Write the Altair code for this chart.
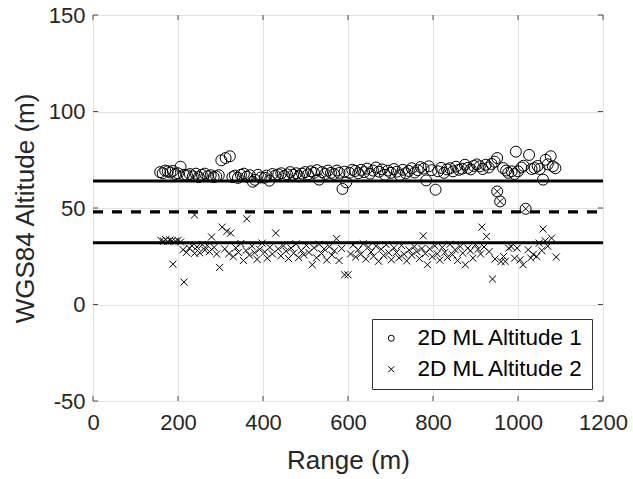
import altair as alt
import pandas as pd

# ---- data ----
series_names = ["2D ML Altitude 1", "2D ML Altitude 2"]

alt1_range = [
    158, 164, 170, 176, 182, 188, 194, 200, 206, 214,
    221, 228, 235, 242, 249, 256, 263, 270, 277, 284,
    290, 296, 302, 312, 322, 328, 334, 341, 348, 355,
    362, 369, 376, 381, 388, 395, 404, 408, 415, 422,
    429, 436, 443, 450, 457, 464, 471, 478, 485, 492,
    499, 506, 513, 520, 527, 532, 539, 546, 553, 560,
    567, 574, 580, 587, 592, 596, 603, 610, 617, 624,
    631, 638, 645, 652, 659, 666, 673, 680, 687, 694,
    701, 708, 715, 722, 729, 736, 743, 750, 757, 764,
    771, 778, 784, 790, 797, 806, 812, 819, 826, 833,
    840, 847, 854, 861, 868, 875, 882, 889, 896, 903,
    910, 917, 924, 931, 938, 945, 951, 951, 958, 965,
    972, 977, 985, 992, 995, 1000, 1008, 1013, 1018, 1026,
    1032, 1039, 1046, 1051, 1059, 1065, 1070, 1077, 1082, 1088,
]
alt1_value = [
    68.6, 68.0, 69.4, 69.0, 68.4, 69.2, 67.6, 68.0, 71.4, 67.2,
    67.0, 67.6, 66.4, 67.8, 66.0, 67.2, 67.8, 66.4, 67.0, 66.0,
    66.4, 67.0, 74.7, 75.9, 76.8, 66.0, 66.8, 65.6, 67.2, 67.8,
    66.2, 67.0, 63.6, 64.6, 67.2, 65.8, 65.7, 66.8, 64.2, 67.6,
    66.8, 67.4, 68.0, 66.6, 67.4, 68.6, 67.2, 68.0, 66.4, 67.8,
    68.6, 67.4, 69.0, 68.2, 69.6, 64.7, 68.6, 67.6, 69.4, 68.2,
    67.6, 69.4, 68.2, 59.9, 68.8, 63.3, 68.2, 69.8, 69.2, 68.0,
    69.8, 68.6, 70.4, 67.8, 69.4, 71.0, 68.8, 70.0, 67.2, 69.4,
    68.2, 70.2, 68.8, 67.0, 69.8, 68.0, 69.2, 70.6, 68.4, 69.6,
    71.2, 70.4, 64.3, 71.6, 69.6, 59.5, 69.0, 70.8, 68.2, 70.0,
    70.6, 69.0, 71.4, 69.8, 70.4, 72.4, 70.8, 70.0, 71.8, 72.6,
    71.6, 70.2, 72.4, 71.0, 72.8, 74.0, 75.9, 58.6, 53.4, 70.7,
    69.4, 68.2, 69.0, 67.6, 79.2, 69.0, 71.0, 71.9, 49.6, 77.5,
    70.2, 70.7, 71.8, 70.2, 64.7, 75.0, 72.6, 76.8, 71.6, 70.6,
]

alt2_range = [
    160, 166, 171, 176, 181, 186, 188, 194, 200, 206,
    212, 214, 220, 227, 233, 239, 239, 245, 251, 257,
    263, 269, 274, 279, 285, 291, 298, 304, 310, 315,
    320, 324, 330, 336, 342, 348, 354, 360, 362, 368,
    374, 380, 386, 392, 398, 404, 410, 416, 422, 430,
    436, 442, 448, 454, 460, 466, 472, 478, 484, 490,
    496, 502, 508, 516, 520, 526, 532, 538, 544, 550,
    556, 562, 568, 573, 579, 585, 592, 600, 606, 612,
    618, 624, 630, 636, 642, 648, 654, 660, 666, 672,
    678, 684, 690, 696, 702, 708, 714, 720, 726, 732,
    738, 744, 750, 756, 762, 768, 774, 777, 782, 787,
    792, 798, 804, 810, 816, 822, 828, 834, 840, 846,
    852, 858, 864, 870, 876, 882, 888, 894, 900, 906,
    912, 915, 920, 926, 932, 940, 946, 951, 958, 960,
    966, 970, 978, 984, 992, 998, 1005, 1012, 1018, 1024,
    1030, 1036, 1044, 1050, 1056, 1059, 1064, 1070, 1079, 1090,
]
alt2_value = [
    33.2, 32.8, 33.6, 32.6, 33.4, 33.0, 20.9, 32.8, 33.2, 32.4,
    28.4, 11.6, 27.0, 29.2, 30.4, 26.5, 46.4, 29.8, 26.8, 31.0,
    28.2, 30.6, 27.4, 35.0, 29.6, 26.2, 19.2, 40.1, 28.8, 37.9,
    26.4, 37.0, 24.8, 29.4, 27.0, 31.6, 22.8, 28.0, 44.4, 25.6,
    30.2, 26.8, 23.4, 28.6, 31.8, 27.2, 24.0, 29.6, 26.2, 37.0,
    28.8, 25.2, 30.4, 27.6, 23.8, 29.2, 26.6, 31.4, 24.4, 28.0,
    25.8, 30.6, 27.0, 20.6, 29.4, 24.2, 31.2, 26.4, 28.8, 23.0,
    30.0, 25.6, 27.8, 34.1, 22.8, 29.0, 15.4, 15.4, 26.2, 30.8,
    24.6, 28.4, 26.0, 31.4, 23.6, 29.8, 27.2, 25.0, 30.2, 22.4,
    28.6, 25.4, 31.0, 26.8, 23.2, 29.4, 27.0, 24.2, 30.6, 26.0,
    22.6, 28.2, 25.6, 30.0, 27.4, 23.8, 29.0, 35.6, 26.4, 20.6,
    28.8, 24.8, 30.4, 26.2, 23.0, 29.6, 27.0, 24.4, 31.2, 25.8,
    28.4, 22.8, 30.0, 26.6, 20.6, 29.2, 27.8, 24.0, 31.0, 28.6,
    26.2, 40.1, 29.8, 35.3, 27.4, 13.2, 23.6, 58.6, 53.4, 22.2,
    24.9, 22.3, 29.2, 30.0, 24.0, 29.2, 23.2, 20.6, 49.6, 28.4,
    24.1, 26.0, 24.9, 31.8, 28.0, 39.1, 33.0, 30.2, 34.4, 24.6,
]

solid_levels = [64, 32]
dashed_levels = [48]
x_ticks = [0, 200, 400, 600, 800, 1000, 1200]
y_ticks = [-50, 0, 50, 100, 150]

X_TITLE = "Range (m)"
Y_TITLE = "WGS84 Altitude (m)"
FONT = "Liberation Sans"
TXT = "#262626"

# ---- tables ----
df1 = pd.DataFrame({"range": alt1_range, "alt": alt1_value, "series": series_names[0]})
df2 = pd.DataFrame({"range": alt2_range, "alt": alt2_value, "series": series_names[1]})

xs = alt.Scale(domain=[0, 1200], nice=False, zero=False)
ys = alt.Scale(domain=[-50, 150], nice=False, zero=False)

x_axis = alt.Axis(values=x_ticks, title=X_TITLE, labelPadding=11, titlePadding=14,
                  labelExpr="'' + datum.value")
y_axis = alt.Axis(values=y_ticks, title=Y_TITLE, labelPadding=8, titlePadding=10,
                  labelExpr="'' + datum.value")

X_PATH = "M-1,-1L1,1M-1,1L1,-1"
shape_scale = alt.Scale(domain=series_names, range=["circle", X_PATH])
legend = alt.Legend(title=None, orient="none", legendX=279, legendY=304,
                    direction="vertical", strokeColor="#333333", fillColor="white",
                    padding=8, symbolOffset=0, symbolSize=36, labelOffset=15,
                    labelFontSize=22.5, labelFont=FONT, labelColor="black",
                    labelLimit=400, rowPadding=8, symbolStrokeColor="black",
                    symbolStrokeWidth=1, symbolFillColor="transparent",
                    cornerRadius=0)


def scatter(df, size):
    return alt.Chart(df).mark_point(filled=False, color="black", strokeWidth=1,
                                    opacity=1, size=size).encode(
        x=alt.X("range:Q", scale=xs, axis=x_axis),
        y=alt.Y("alt:Q", scale=ys, axis=y_axis),
        shape=alt.Shape("series:N", scale=shape_scale, legend=legend),
    )


circles = scatter(df1, 120)
crosses = scatter(df2, 50)

solid = alt.Chart(pd.DataFrame({"alt": solid_levels})).mark_rule(color="black", strokeWidth=3.2).encode(
    y=alt.Y("alt:Q", scale=ys, axis=y_axis), x=alt.datum(0), x2=alt.datum(1200))

dashed = alt.Chart(pd.DataFrame({"alt": dashed_levels})).mark_rule(
    color="black", strokeWidth=3.2, strokeDash=[10, 9]).encode(
    y=alt.Y("alt:Q", scale=ys, axis=y_axis), x=alt.datum(0), x2=alt.datum(1200))

# inward ticks (MATLAB style)
tick_y = pd.DataFrame({"alt": y_ticks})
tick_x = pd.DataFrame({"range": x_ticks})
tl = alt.Chart(tick_y).mark_rule(color="#4d4d4d", strokeWidth=1).encode(
    y=alt.Y("alt:Q", scale=ys, axis=y_axis), x=alt.datum(0), x2=alt.datum(12))
tr = alt.Chart(tick_y).mark_rule(color="#4d4d4d", strokeWidth=1).encode(
    y=alt.Y("alt:Q", scale=ys, axis=y_axis), x=alt.datum(1188), x2=alt.datum(1200))
tb = alt.Chart(tick_x).mark_rule(color="#4d4d4d", strokeWidth=1).encode(
    x=alt.X("range:Q", scale=xs, axis=x_axis), y=alt.datum(-50), y2=alt.datum(-47.4))
tt = alt.Chart(tick_x).mark_rule(color="#4d4d4d", strokeWidth=1).encode(
    x=alt.X("range:Q", scale=xs, axis=x_axis), y=alt.datum(147.4), y2=alt.datum(150))

chart = alt.layer(circles, crosses, solid, dashed, tl, tr, tb, tt).properties(
    width=510, height=386,
    padding={"left": 93, "top": 15, "right": 30, "bottom": 78},
    autosize=alt.AutoSizeParams(type="none"),
    background="white",
).configure_view(stroke="#4d4d4d", strokeWidth=1).configure_axis(
    grid=True, gridColor="#e3e3e3", gridWidth=1, domain=False, ticks=False,
    labelFont=FONT, labelFontSize=22, labelColor=TXT, labelFlush=False, labelOverlap=False,
    titleFont=FONT, titleFontSize=26, titleFontWeight="normal", titleColor=TXT,
)

chart.save("out.html", embed_options={"renderer": "svg", "actions": False})
